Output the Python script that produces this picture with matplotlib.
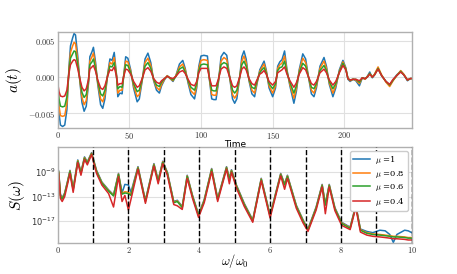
import numpy as np
import matplotlib
matplotlib.use('Agg')
import matplotlib.pyplot as plt
from matplotlib.ticker import FuncFormatter

# time signal a(t), values in units of 1e-3
t = [0, 1, 2, 3.5, 5, 6.5, 8, 9, 10.5, 11.5,
     12.5, 14, 15.5, 17, 18.5, 20, 21.5, 22.5, 24, 25,
     26.5, 28, 30, 31.5, 33, 35, 36.5, 38, 39.5, 41,
     42, 43.5, 45, 46, 47.5, 49, 51, 53, 55.5, 57,
     59, 61, 63, 65, 67, 69, 71, 72.5, 74.5, 76.5,
     78.5, 80.5, 82.5, 85, 87.3, 89, 91, 93, 95.5, 97,
     98.5, 100, 102, 104.5, 106, 107.5, 109, 110.5, 112, 114,
     116, 118, 120, 122, 123.5, 125, 127, 128.5, 130, 131.5,
     133.5, 135.5, 137.4, 139, 141, 142.5, 144, 145.5, 147.5, 150,
     152, 153.5, 155, 156.5, 158.3, 160, 162, 164.8, 166.5, 168.5,
     171, 173, 175, 177, 178.8, 180.5, 183, 185.8, 187.5, 189.5,
     192, 194, 196.5, 199, 201, 202.5, 204, 206, 208, 210.5,
     212.5, 214.5, 216, 217.7, 219.5, 221, 223.5, 226, 229, 231.6,
     234, 236.5, 239.3, 241.5, 244, 246, 247]

a_mu10 = [-0.7, -5.0, -6.6, -6.8, -6.6, -4.5, 1.5, 4.3, 5.4, 6.0,
          5.8, 3.0, -0.5, -3.5, -4.7, -4.0, -1.0, 2.8, 3.5, 4.1,
          2.0, -1.0, -3.8, -4.3, -3.0, 0.5, 2.5, 2.3, 3.4, 0.5,
          -2.7, -2.2, -2.3, 0.0, 2.8, 2.6, 1.0, -1.5, -3.4, -3.0,
          -0.5, 2.5, 3.3, 2.0, -0.5, -1.8, -2.2, -1.2, -0.4, 0.2,
          -0.2, -0.6, 0.2, 1.8, 2.3, 1.2, -0.8, -2.4, -3.0, -1.5,
          1.5, 2.9, 3.0, 2.9, -0.5, -3.0, -3.1, -3.1, -1.0, 2.8,
          3.4, 3.0, 0.0, -3.0, -3.6, -3.0, 0.0, 2.8, 3.6, 2.5,
          -0.5, -2.3, -2.7, -1.0, 1.0, 1.6, 2.2, 1.0, -1.5, -2.7,
          -1.5, 1.5, 2.1, 2.4, 3.6, 1.0, -1.2, -3.6, -2.0, 1.0,
          3.2, 2.5, 0.0, -2.3, -2.7, -1.5, 1.5, 2.7, 1.5, -1.0,
          -2.7, -1.5, 1.0, 2.3, 1.3, -0.3, -0.6, -0.3, -0.5, -1.2,
          -0.1, -0.3, 0.1, 0.7, -0.1, 0.3, 1.2, 0.2, -0.6, -1.1,
          -0.4, 0.3, 0.8, 0.3, -0.5, -0.2, -0.2]

a_mu08 = [-0.7, -4.0, -5.3, -5.4, -5.3, -3.6, 1.2, 3.4, 4.3, 4.8,
          4.6, 2.4, -0.4, -2.8, -3.8, -3.2, -0.8, 2.2, 2.8, 3.3,
          1.6, -0.8, -3.0, -3.4, -2.4, 0.4, 2.0, 1.8, 2.7, 0.4,
          -2.2, -1.8, -1.8, 0.0, 2.2, 2.1, 0.8, -1.2, -2.7, -2.4,
          -0.4, 2.0, 2.6, 1.6, -0.4, -1.4, -1.8, -1.0, -0.3, 0.2,
          -0.2, -0.5, 0.2, 1.4, 1.8, 1.0, -0.6, -1.9, -2.4, -1.2,
          1.2, 2.3, 2.4, 2.3, -0.4, -2.4, -2.5, -2.5, -0.8, 2.2,
          2.7, 2.4, 0.0, -2.4, -2.9, -2.4, 0.0, 2.2, 2.9, 2.0,
          -0.4, -1.8, -2.2, -0.8, 0.8, 1.3, 1.8, 0.8, -1.2, -2.2,
          -1.2, 1.2, 1.7, 1.9, 2.9, 0.8, -1.0, -2.9, -1.6, 0.8,
          2.6, 2.0, 0.0, -1.8, -2.2, -1.2, 1.2, 2.2, 1.2, -0.8,
          -2.2, -1.2, 0.8, 2.1, 1.2, -0.2, -0.5, -0.3, -0.4, -0.9,
          -0.1, -0.3, 0.1, 0.5, 0.0, 0.4, 1.4, 0.3, -0.7, -1.3,
          -0.5, 0.2, 0.9, 0.4, -0.4, -0.2, -0.2]

a_mu06 = [-0.7, -3.0, -4.0, -4.1, -4.0, -2.7, 0.9, 2.6, 3.2, 3.6,
          3.5, 1.8, -0.3, -2.1, -2.8, -2.4, -0.6, 1.7, 2.1, 2.5,
          1.2, -0.6, -2.3, -2.6, -1.8, 0.3, 1.5, 1.4, 2.0, 0.3,
          -1.6, -1.3, -1.4, 0.0, 1.7, 1.6, 0.6, -0.9, -2.0, -1.8,
          -0.3, 1.5, 2.0, 1.2, -0.3, -1.1, -1.3, -0.7, -0.2, 0.1,
          -0.1, -0.4, 0.1, 1.1, 1.4, 0.7, -0.5, -1.4, -1.8, -0.9,
          0.9, 1.7, 1.8, 1.7, -0.3, -1.8, -1.9, -1.9, -0.6, 1.7,
          2.0, 1.8, 0.0, -1.8, -2.2, -1.8, 0.0, 1.7, 2.2, 1.5,
          -0.3, -1.4, -1.6, -0.6, 0.6, 1.0, 1.3, 0.6, -0.9, -1.6,
          -0.9, 0.9, 1.3, 1.4, 2.2, 0.6, -0.7, -2.2, -1.2, 0.6,
          1.9, 1.5, 0.0, -1.4, -1.6, -0.9, 0.9, 1.6, 0.9, -0.6,
          -1.6, -0.9, 0.7, 1.9, 1.1, -0.2, -0.4, -0.3, -0.3, -0.7,
          -0.1, -0.2, 0.0, 0.5, 0.0, 0.3, 1.2, 0.2, -0.6, -1.1,
          -0.4, 0.2, 0.8, 0.3, -0.4, -0.2, -0.2]

a_mu04 = [-0.7, -2.0, -2.6, -2.7, -2.6, -1.8, 0.6, 1.7, 2.2, 2.4,
          2.3, 1.2, -0.2, -1.4, -1.9, -1.6, -0.4, 1.1, 1.4, 1.6,
          0.8, -0.4, -1.5, -1.7, -1.2, 0.2, 1.0, 0.9, 1.4, 0.2,
          -1.1, -0.9, -0.9, 0.0, 1.1, 1.0, 0.4, -0.6, -1.4, -1.2,
          -0.2, 1.0, 1.3, 0.8, -0.2, -0.7, -0.9, -0.5, -0.2, 0.1,
          -0.1, -0.2, 0.1, 0.7, 0.9, 0.5, -0.3, -1.0, -1.2, -0.6,
          0.6, 1.2, 1.2, 1.2, -0.2, -1.2, -1.2, -1.2, -0.4, 1.1,
          1.4, 1.2, 0.0, -1.2, -1.4, -1.2, 0.0, 1.1, 1.4, 1.0,
          -0.2, -0.9, -1.1, -0.4, 0.4, 0.6, 0.9, 0.4, -0.6, -1.1,
          -0.6, 0.6, 0.8, 1.0, 1.4, 0.4, -0.5, -1.4, -0.8, 0.4,
          1.3, 1.0, 0.0, -0.9, -1.1, -0.6, 0.6, 1.1, 0.6, -0.4,
          -1.1, -0.6, 0.6, 1.6, 1.0, -0.2, -0.4, -0.3, -0.3, -0.5,
          -0.1, -0.2, 0.0, 0.4, 0.0, 0.3, 1.1, 0.2, -0.6, -1.0,
          -0.3, 0.2, 0.7, 0.3, -0.4, -0.2, -0.2]

# spectrum S(w), values are log10
w = [0.0, 0.03, 0.08, 0.13, 0.2, 0.28, 0.35, 0.44, 0.57, 0.66,
     0.76, 0.84, 0.96, 1.1, 1.25, 1.44, 1.58, 1.72, 1.82, 1.9,
     2.0, 2.07, 2.27, 2.48, 2.72, 2.84, 2.97, 3.1, 3.28, 3.38,
     3.52, 3.66, 3.81, 3.98, 4.14, 4.35, 4.52, 4.77, 4.85, 4.91,
     5.05, 5.27, 5.51, 5.75, 6.0, 6.3, 6.41, 6.49, 6.74, 6.93,
     7.07, 7.3, 7.47, 7.56, 7.67, 7.83, 8.02, 8.26, 8.42, 8.55,
     8.73, 8.9, 9.1, 9.25, 9.38, 9.48, 9.58, 9.8, 9.9, 10.0]

logS_mu10 = [-8.3, -8.8, -12.6, -13.2, -12.4, -10.5, -8.7, -11.7, -7.0, -9.0,
             -6.5, -7.3, -5.8, -8.7, -10.6, -11.9, -12.7, -9.2, -12.4, -11.0,
             -11.1, -12.3, -8.1, -13.6, -7.6, -10.3, -7.2, -9.0, -13.8, -13.6,
             -14.6, -9.5, -12.8, -15.9, -13.5, -8.4, -13.3, -8.1, -10.0, -8.6,
             -11.1, -14.1, -16.8, -10.0, -16.0, -9.2, -10.9, -9.5, -14.4, -16.8,
             -18.3, -14.7, -11.0, -14.2, -11.0, -14.8, -17.2, -18.0, -14.4, -18.3,
             -18.7, -18.9, -18.5, -18.6, -19.2, -20.5, -19.2, -18.5, -18.6, -18.9]

logS_mu08 = [-8.4, -8.9, -12.8, -13.3, -12.5, -10.6, -8.8, -11.8, -7.1, -9.1,
             -6.6, -7.4, -5.9, -8.8, -10.7, -12.0, -12.8, -9.3, -12.5, -12.2,
             -12.3, -12.6, -8.2, -13.7, -7.7, -10.4, -7.3, -9.1, -13.9, -13.7,
             -14.7, -9.6, -12.9, -16.0, -13.6, -8.5, -13.4, -8.2, -10.1, -8.7,
             -11.2, -14.2, -16.9, -10.1, -16.1, -9.3, -11.0, -9.6, -14.5, -16.9,
             -18.4, -14.8, -11.1, -14.3, -11.1, -14.9, -17.3, -18.1, -14.5, -18.4,
             -18.9, -19.1, -19.2, -19.3, -19.4, -19.5, -19.5, -19.6, -19.7, -19.7]

logS_mu06 = [-8.5, -9.0, -12.9, -13.4, -12.6, -10.7, -8.9, -11.9, -7.2, -9.2,
             -6.7, -7.5, -6.0, -8.9, -10.8, -12.1, -12.9, -9.4, -12.6, -12.4,
             -12.5, -12.8, -8.3, -13.8, -7.8, -10.5, -7.4, -9.2, -14.0, -13.8,
             -14.8, -9.7, -13.0, -16.1, -13.7, -8.6, -13.5, -8.3, -10.2, -8.8,
             -11.3, -14.3, -17.0, -10.2, -16.2, -9.4, -11.1, -9.7, -14.6, -17.0,
             -18.5, -14.9, -11.2, -14.4, -11.2, -15.0, -17.4, -18.2, -14.6, -18.5,
             -19.0, -19.2, -19.3, -19.4, -19.5, -19.6, -19.6, -19.7, -19.8, -19.8]

logS_mu04 = [-8.7, -9.2, -13.3, -13.8, -13.0, -11.0, -9.2, -12.3, -7.4, -9.5,
             -6.9, -7.8, -6.1, -9.2, -11.1, -12.5, -14.7, -9.7, -13.8, -12.8,
             -15.2, -13.5, -8.5, -14.1, -8.0, -10.9, -7.6, -9.5, -14.3, -14.5,
             -15.1, -10.0, -13.3, -16.4, -14.0, -8.9, -13.8, -8.5, -10.9, -9.0,
             -11.6, -14.6, -17.2, -10.4, -16.5, -9.6, -11.8, -10.0, -14.9, -17.3,
             -18.7, -15.2, -11.4, -15.8, -11.4, -15.3, -17.7, -18.4, -14.8, -18.8,
             -19.3, -19.5, -19.6, -19.7, -19.8, -19.9, -19.9, -20.0, -20.1, -20.1]

mu_labels = ['1', '0.8', '0.6', '0.4']
colors = ['#1f77b4', '#ff7f0e', '#2ca02c', '#d62728']
harmonics = [1, 2, 3, 4, 5, 6, 7, 8, 9, 10]

plt.rcParams['mathtext.fontset'] = 'cm'
plt.rcParams['axes.edgecolor'] = '#b0b0b0'
plt.rcParams['axes.linewidth'] = 1.0

fig = plt.figure(figsize=(4.57, 2.74), dpi=100)
ax1 = fig.add_axes([0.126, 0.533, 0.775, 0.350])
ax2 = fig.add_axes([0.126, 0.113, 0.775, 0.350])

math_fmt = FuncFormatter(lambda v, pos: '$%g$' % v)

# top: time series
for vals, c in zip([a_mu10, a_mu08, a_mu06, a_mu04], colors):
    ax1.plot(t, np.array(vals) * 1e-3, color=c, lw=1.1)
ax1.set_xlim(0, 247)
ax1.set_ylim(-0.0070, 0.0062)
ax1.set_xticks([0, 50, 100, 150, 200])
ax1.set_yticks([-0.005, 0.0, 0.005])
ax1.xaxis.set_major_formatter(math_fmt)
ax1.yaxis.set_major_formatter(FuncFormatter(lambda v, pos: '$%.3f$' % v))
ax1.set_xlabel('Time', fontsize=6.5, labelpad=-1)
ax1.set_ylabel('$a(t)$', fontsize=11, labelpad=3)

# bottom: spectrum
for vals, c, lab in zip([logS_mu10, logS_mu08, logS_mu06, logS_mu04], colors, mu_labels):
    ax2.plot(w, 10.0 ** np.array(vals), color=c, lw=1.1, label=r'$\mu$ =' + lab)
for h in harmonics:
    ax2.axvline(h, color='black', ls='--', lw=1.0, zorder=3)
ax2.set_yscale('log')
ax2.set_xlim(0, 10)
ax2.set_ylim(10 ** -20.6, 10 ** -4.9)
ax2.set_xticks([0, 2, 4, 6, 8, 10])
ax2.set_yticks([1e-17, 1e-13, 1e-9])
ax2.minorticks_off()
ax2.xaxis.set_major_formatter(math_fmt)
ax2.set_xlabel(r'$\omega/\omega_0$', fontsize=9, labelpad=-2)
ax2.set_ylabel(r'$S(\omega)$', fontsize=11, labelpad=3)
ax2.legend(loc='upper right', handlelength=2.0, framealpha=1,
           edgecolor='#cccccc', borderpad=0.35, labelspacing=0.3,
           handletextpad=0.6, prop={'family': 'serif', 'size': 6})

for ax in (ax1, ax2):
    ax.grid(True, color='#e0e0e0', lw=0.8)
    ax.set_axisbelow(True)
    ax.tick_params(length=0, labelsize=6, pad=1.5, colors='#333333')

fig.savefig('out.png', dpi=100)
